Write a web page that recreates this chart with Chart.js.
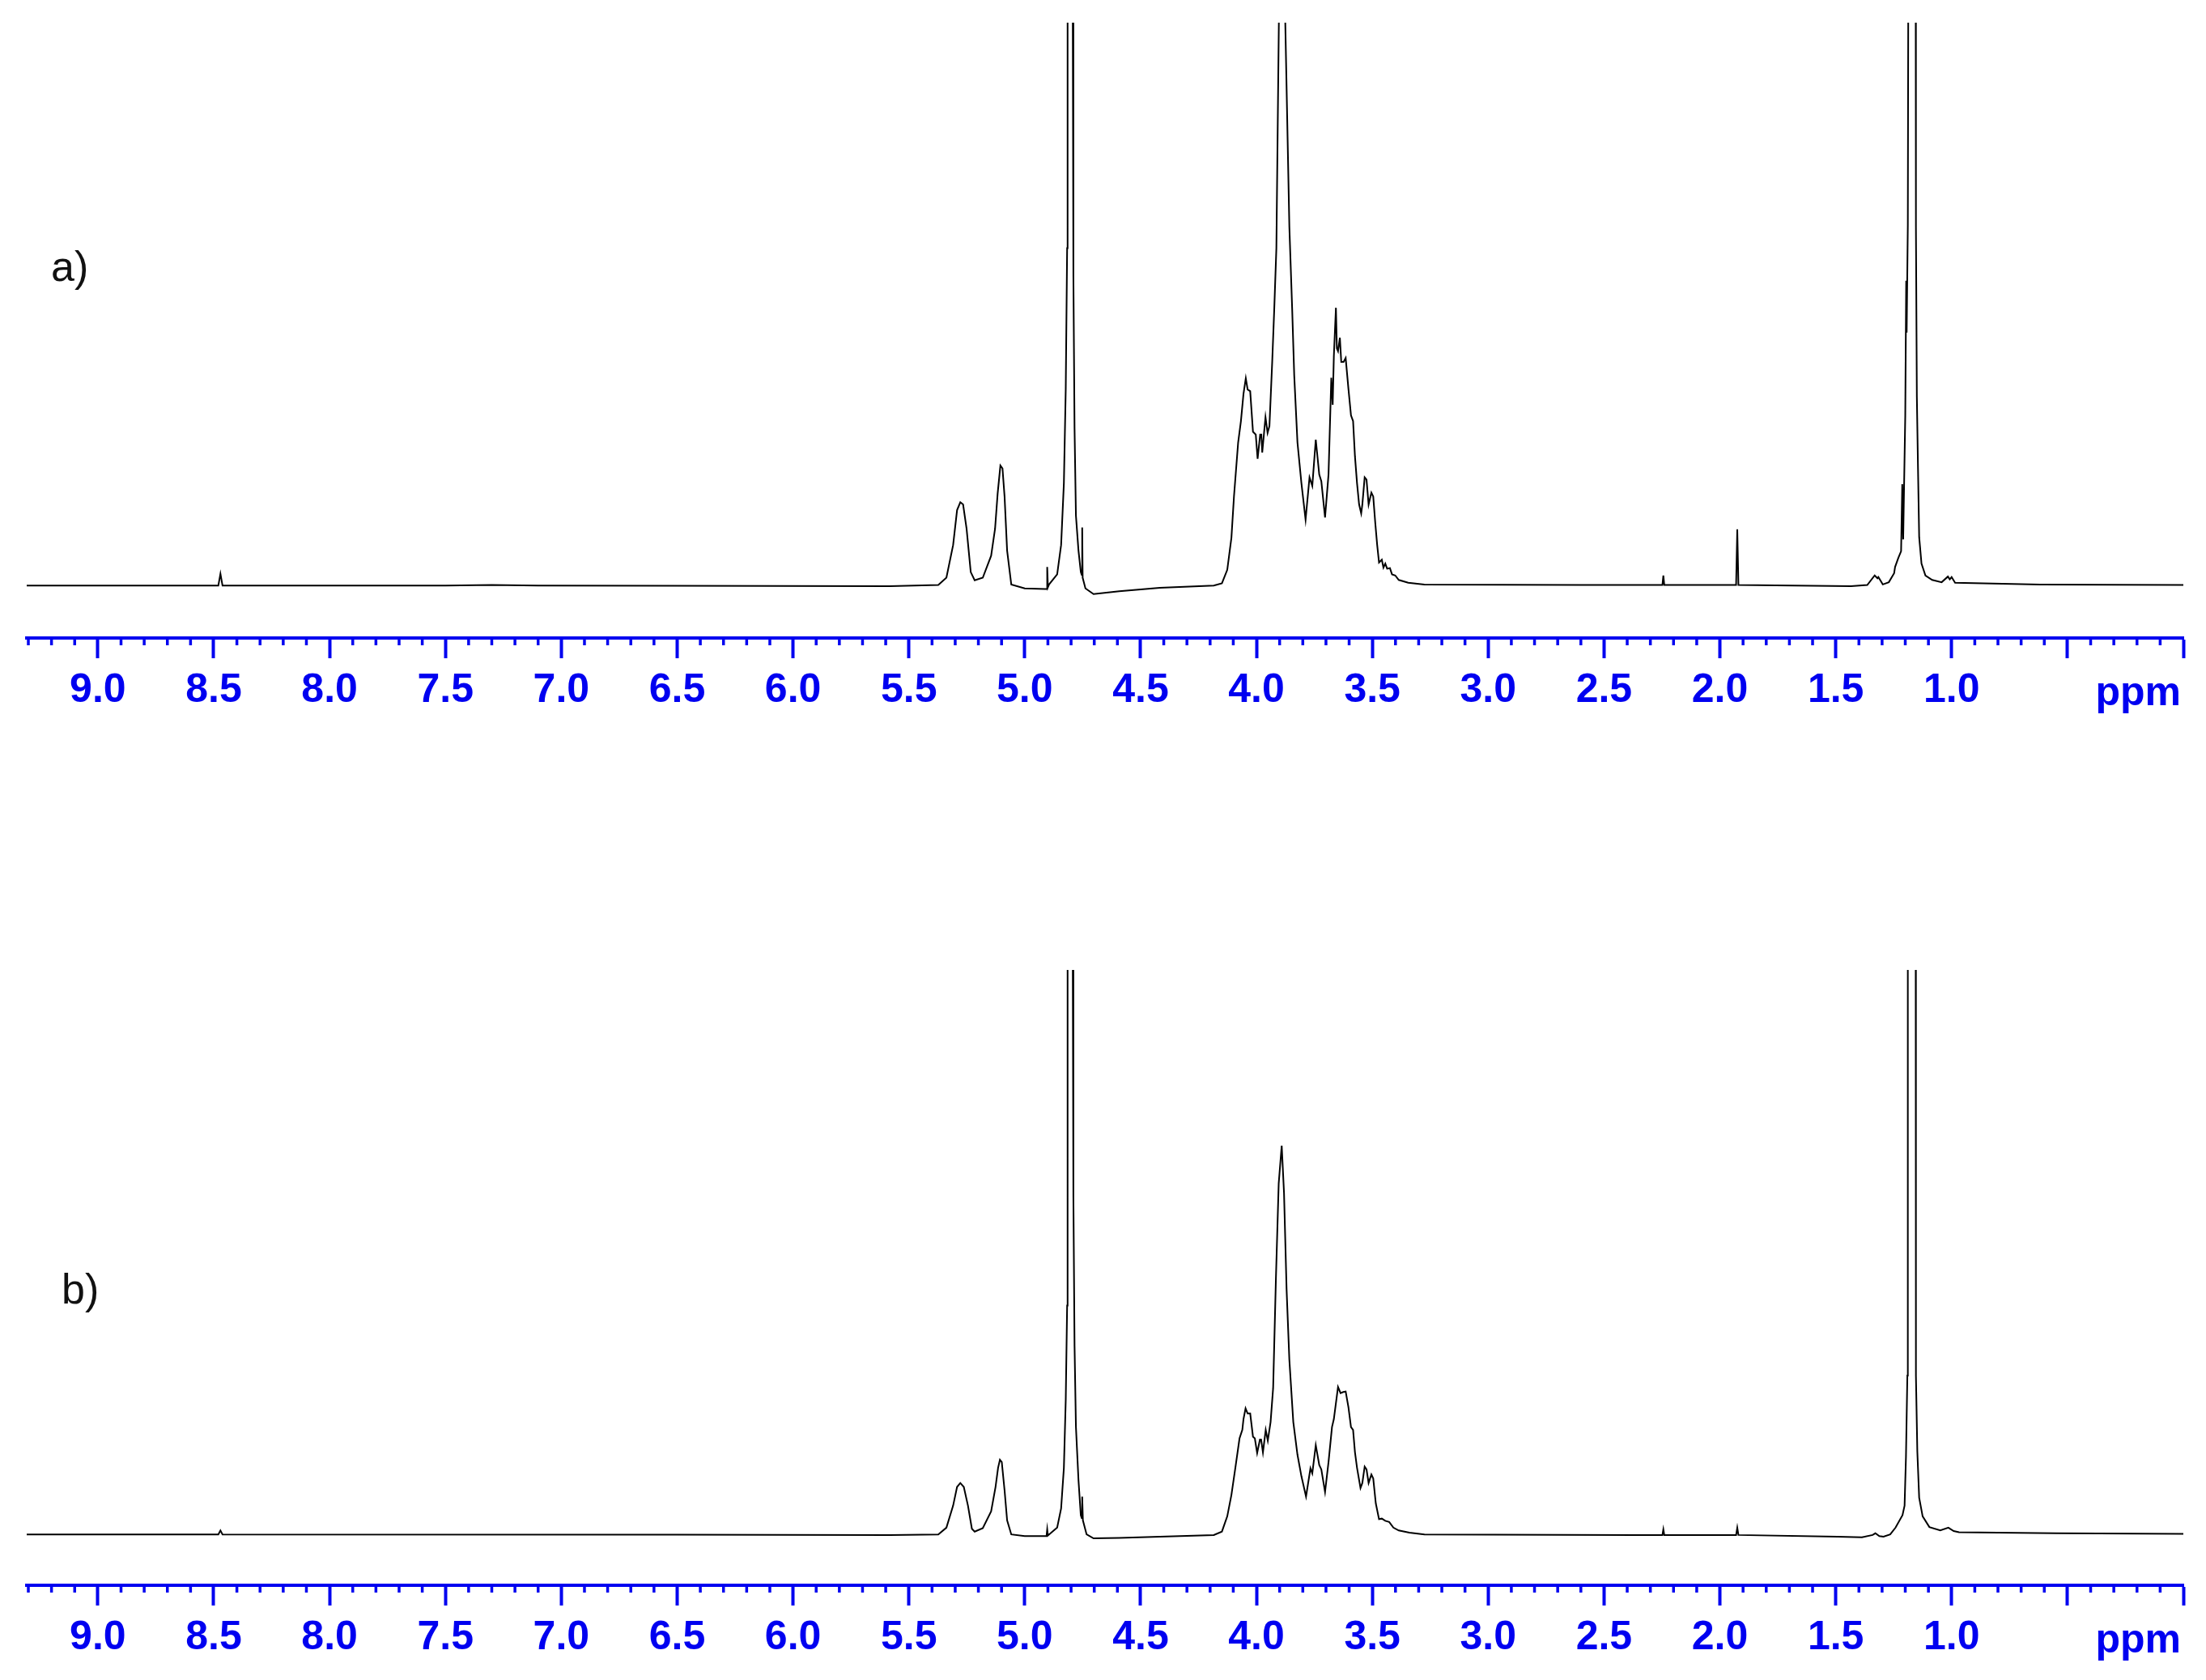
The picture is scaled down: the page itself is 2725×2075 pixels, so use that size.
<!DOCTYPE html>
<html>
<head>
<meta charset="utf-8">
<script src="https://cdn.jsdelivr.net/npm/chart.js@4.4.0/dist/chart.umd.min.js"></script>
<style>
  html, body { margin: 0; padding: 0; background: #fff; }
  body { width: 2725px; height: 2075px; position: relative; overflow: hidden; }
  .panel { position: absolute; left: 0; width: 2725px; height: 900px; }
  .tag { position: absolute; font: 52px "Liberation Sans", Arial, sans-serif; line-height: 52px; color: #111; }
</style>
</head>
<body>
<div class="panel" style="top:0"><canvas id="specA"></canvas></div>
<div class="panel" style="top:1170px"><canvas id="specB"></canvas></div>
<div class="tag" style="left:63px; top:303px">a)</div>
<div class="tag" style="left:76px; top:1566px">b)</div>
<script>
// chemical shift axis (ppm), drawn reversed
const ppmMin = 0;
const ppmMax = 9.307;
const majorTicks = [9.0, 8.5, 8.0, 7.5, 7.0, 6.5, 6.0, 5.5, 5.0, 4.5, 4.0, 3.5, 3.0, 2.5, 2.0, 1.5, 1.0, 0.5, 0.0];
const tickLabels = ['9.0', '8.5', '8.0', '7.5', '7.0', '6.5', '6.0', '5.5', '5.0', '4.5', '4.0', '3.5', '3.0', '2.5', '2.0', '1.5', '1.0', '', ''];
const unitLabel = 'ppm';

// spectrum a) : shift (ppm) and intensity (baseline = 0, top of frame = 100)
const ppmA = [
  9.31, 8.60, 8.480, 8.471, 8.462, 7.50, 7.30, 7.10, 6.50, 5.583,
  5.373, 5.338, 5.309, 5.292, 5.278, 5.266, 5.251, 5.233, 5.216, 5.181,
  5.145, 5.128, 5.117, 5.105, 5.096, 5.087, 5.076, 5.058, 5.000, 4.913,
  4.905, 4.903, 4.900, 4.895, 4.860, 4.843, 4.831, 4.823, 4.817, 4.815,
  4.805, 4.793, 4.790, 4.785, 4.779, 4.768, 4.758, 4.754, 4.752, 4.750,
  4.738, 4.703, 4.592, 4.417, 4.184, 4.149, 4.126, 4.108, 4.097, 4.079,
  4.067, 4.056, 4.046, 4.038, 4.027, 4.015, 4.003, 3.995, 3.984, 3.979,
  3.975, 3.961, 3.952, 3.944, 3.932, 3.923, 3.914, 3.902, 3.890, 3.878,
  3.858, 3.846, 3.837, 3.823, 3.806, 3.788, 3.771, 3.759, 3.744, 3.729,
  3.720, 3.704, 3.689, 3.677, 3.671, 3.666, 3.657, 3.653, 3.648, 3.640,
  3.634, 3.624, 3.615, 3.603, 3.592, 3.583, 3.575, 3.566, 3.557, 3.548,
  3.543, 3.533, 3.525, 3.516, 3.504, 3.496, 3.487, 3.479, 3.471, 3.459,
  3.452, 3.444, 3.436, 3.424, 3.415, 3.401, 3.386, 3.345, 3.275, 2.600,
  2.248, 2.244, 2.240, 1.930, 1.925, 1.920, 1.434, 1.364, 1.332, 1.320,
  1.316, 1.297, 1.271, 1.248, 1.244, 1.230, 1.218, 1.213, 1.209, 1.200,
  1.196, 1.194, 1.189, 1.187, 1.170, 1.155, 1.154, 1.150, 1.145, 1.140,
  1.130, 1.113, 1.084, 1.043, 1.016, 1.008, 1.000, 0.985, 0.617, 0.000
];
const intA = [
  0.1, 0.1, 0.1, 2.2, 0.1, 0.1, 0.2, 0.1, 0.05, 0.0,
  0.2, 1.5, 7.3, 13.5, 14.9, 14.5, 10.2, 2.5, 1.05, 1.5,
  5.4, 10.2, 16.4, 21.4, 20.9, 15.9, 6.3, 0.3, -0.4, -0.5,
  -0.5, 3.4, -0.2, 0.3, 2.1, 7.3, 18.3, 35.0, 60.0, 105,
  220, 105, 55.0, 27.9, 12.5, 6.3, 2.5, 2.0, 10.4, 1.5,
  -0.4, -1.4, -0.9, -0.3, 0.1, 0.5, 2.9, 8.6, 15.9, 25.5,
  29.3, 34.1, 36.9, 34.9, 34.6, 27.4, 26.9, 22.6, 26.9, 26.9,
  23.7, 30.0, 27.2, 28.4, 39.8, 49.4, 60.0, 105, 190, 105,
  63.8, 49.4, 37.4, 25.5, 18.3, 11.8, 19.3, 17.8, 26.0, 19.8,
  18.6, 12.2, 19.8, 37.0, 32.2, 40.8, 49.4, 42.2, 41.7, 44.1,
  39.8, 39.8, 40.5, 35.0, 30.3, 29.3, 23.1, 18.3, 14.5, 12.9,
  14.5, 19.3, 18.9, 14.5, 16.6, 15.9, 11.1, 7.3, 4.2, 4.7,
  3.3, 4.0, 3.1, 3.2, 2.1, 1.9, 1.1, 0.6, 0.3, 0.2,
  0.2, 1.9, 0.2, 0.2, 10.1, 0.2, 0.0, 0.2, 1.9, 1.4,
  1.6, 0.3, 0.7, 2.3, 3.4, 5.0, 6.2, 18.1, 8.3, 30.3,
  54.2, 45.0, 64.0, 105, 220, 105, 63.8, 33.6, 20.8, 8.7,
  4.0, 1.9, 1.1, 0.7, 1.7, 1.2, 1.6, 0.6, 0.3, 0.2
];

// spectrum b)
const ppmB = [
  9.31, 8.480, 8.471, 8.462, 6.50, 5.583, 5.373, 5.338, 5.309, 5.292,
  5.278, 5.263, 5.245, 5.228, 5.216, 5.181, 5.145, 5.126, 5.115, 5.107,
  5.099, 5.087, 5.076, 5.058, 5.000, 4.906, 4.903, 4.900, 4.860, 4.843,
  4.831, 4.823, 4.817, 4.815, 4.805, 4.793, 4.790, 4.785, 4.779, 4.768,
  4.758, 4.754, 4.752, 4.749, 4.733, 4.703, 4.592, 4.417, 4.184, 4.149,
  4.126, 4.108, 4.091, 4.073, 4.061, 4.056, 4.047, 4.038, 4.027, 4.015,
  4.007, 3.997, 3.985, 3.980, 3.972, 3.960, 3.951, 3.939, 3.928, 3.916,
  3.904, 3.891, 3.881, 3.870, 3.858, 3.841, 3.823, 3.806, 3.786, 3.767,
  3.759, 3.744, 3.729, 3.720, 3.704, 3.689, 3.674, 3.666, 3.648, 3.637,
  3.625, 3.615, 3.603, 3.592, 3.583, 3.575, 3.566, 3.551, 3.543, 3.533,
  3.525, 3.516, 3.504, 3.496, 3.485, 3.471, 3.459, 3.444, 3.427, 3.409,
  3.386, 3.340, 3.275, 2.366, 2.248, 2.244, 2.240, 1.930, 1.925, 1.920,
  1.492, 1.387, 1.341, 1.329, 1.312, 1.294, 1.265, 1.242, 1.212, 1.203,
  1.197, 1.191, 1.189, 1.171, 1.155, 1.154, 1.148, 1.140, 1.125, 1.096,
  1.049, 1.014, 0.991, 0.968, 0.548, 0.000
];
const intB = [
  0.1, 0.1, 0.8, 0.1, 0.05, 0.0, 0.1, 1.3, 5.2, 8.5,
  9.2, 8.5, 5.2, 1.1, 0.6, 1.2, 4.2, 8.5, 11.9, 13.3,
  12.9, 7.9, 2.6, 0.1, -0.2, -0.2, 1.0, -0.1, 1.3, 4.7,
  11.9, 23.9, 40.6, 105, 220, 105, 59.8, 33.4, 19.1, 9.7,
  3.5, 3.0, 6.8, 2.6, 0.1, -0.6, -0.5, -0.3, 0.0, 0.6,
  3.3, 7.1, 11.9, 17.1, 18.6, 20.5, 22.4, 21.5, 21.5, 17.4,
  17.1, 14.5, 16.9, 16.9, 14.6, 18.6, 16.7, 20.0, 26.0, 45.4,
  62.2, 68.9, 60.5, 43.5, 31.0, 20.0, 14.2, 10.4, 6.8, 11.8,
  10.9, 15.9, 12.4, 11.6, 7.6, 12.9, 19.1, 20.5, 26.2, 25.1,
  25.3, 25.4, 22.6, 19.1, 18.6, 14.7, 11.9, 8.3, 9.2, 12.1,
  11.6, 9.2, 10.7, 10.0, 5.6, 2.8, 2.9, 2.5, 2.3, 1.3,
  0.8, 0.4, 0.1, 0.0, 0.0, 1.0, 0.0, 0.0, 1.3, 0.0,
  -0.3, -0.4, 0.0, 0.3, -0.2, -0.3, 0.1, 1.3, 3.5, 5.2,
  13.8, 28.2, 105, 220, 105, 28.2, 14.8, 6.6, 3.3, 1.4,
  0.8, 1.3, 0.7, 0.5, 0.3, 0.2
];

const BLUE = '#0000f0';
const LABEL_FONT = { family: '"Liberation Sans", Arial, sans-serif', size: 50, weight: 'bold' };

// minor ticks every 0.1 ppm and the unit label at the right end of the axis
const axisExtras = {
  id: 'axisExtras',
  afterDraw(chart) {
    const scale = chart.scales.x;
    const ctx = chart.ctx;
    const y0 = scale.top;
    ctx.save();
    ctx.strokeStyle = BLUE;
    ctx.lineWidth = 3.5;
    for (let i = 1; i <= 93; i++) {
      if (i % 5 === 0) continue;
      const px = scale.getPixelForValue(i / 10);
      ctx.beginPath();
      ctx.moveTo(px, y0);
      ctx.lineTo(px, y0 + 9);
      ctx.stroke();
    }
    ctx.fillStyle = BLUE;
    ctx.font = 'bold 50px "Liberation Sans", Arial, sans-serif';
    ctx.textAlign = 'right';
    ctx.textBaseline = 'alphabetic';
    ctx.fillText(unitLabel, chart.chartArea.right - 3, y0 + 83);
    ctx.restore();
  }
};

function makeSpectrum(canvasId, ppm, intensity, yMin) {
  return new Chart(document.getElementById(canvasId), {
    type: 'line',
    data: {
      datasets: [{
        data: ppm.map((v, i) => ({ x: v, y: intensity[i] })),
        borderColor: '#000',
        borderWidth: 2,
        pointRadius: 0,
        tension: 0,
        fill: false
      }]
    },
    options: {
      responsive: true,
      maintainAspectRatio: false,
      animation: false,
      layout: {
        padding: { top: 28, left: 33, right: 28, bottom: 0 }
      },
      plugins: {
        legend: { display: false },
        tooltip: { enabled: false }
      },
      scales: {
        x: {
          type: 'linear',
          reverse: true,
          min: ppmMin,
          max: ppmMax,
          afterBuildTicks: (scale) => {
            scale.ticks = majorTicks.map(v => ({ value: v }));
          },
          afterFit: (scale) => {
            scale.height = 112;
          },
          ticks: {
            autoSkip: false,
            maxRotation: 0,
            padding: 10,
            color: BLUE,
            font: LABEL_FONT,
            callback: (value, index) => tickLabels[index]
          },
          grid: {
            drawOnChartArea: false,
            drawTicks: true,
            tickLength: 25,
            tickWidth: 4,
            tickColor: BLUE
          },
          border: { display: true, color: BLUE, width: 4 }
        },
        y: {
          display: false,
          min: yMin,
          max: 100
        }
      }
    },
    plugins: [axisExtras]
  });
}

makeSpectrum('specA', ppmA, intA, -9.2);
makeSpectrum('specB', ppmB, intB, -8.9);
</script>
</body>
</html>
